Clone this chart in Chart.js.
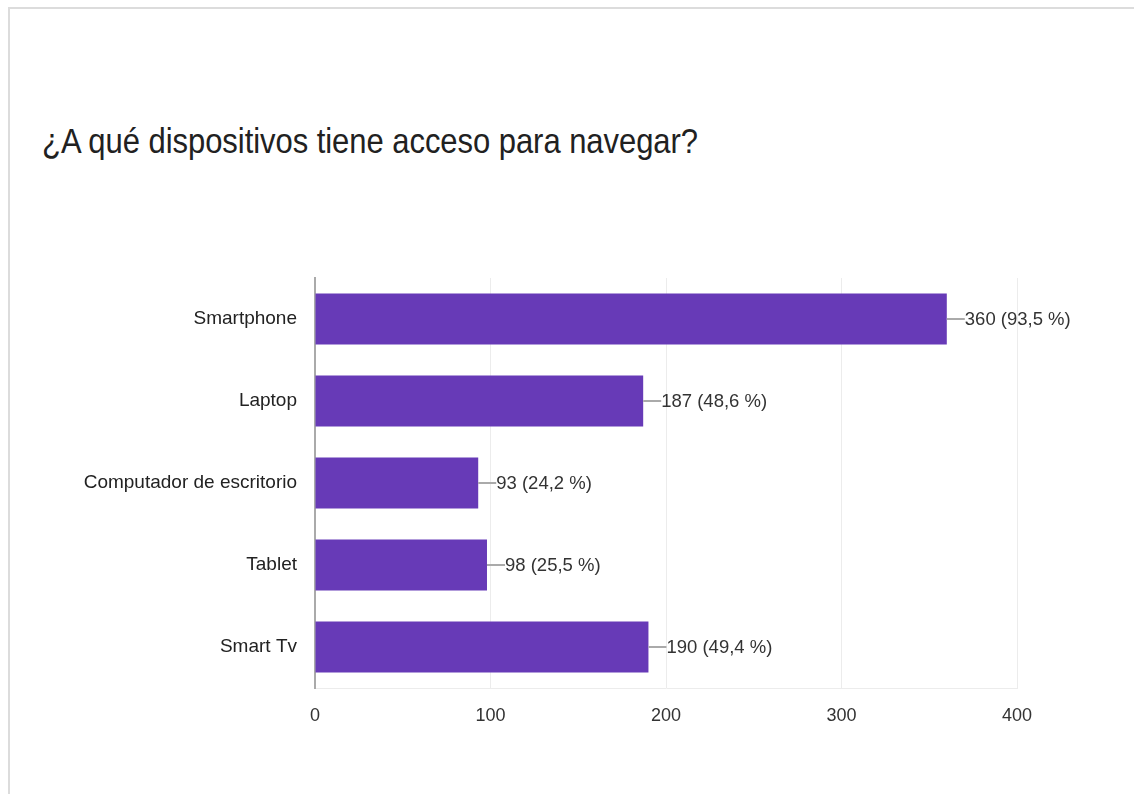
<!DOCTYPE html>
<html>
<head>
<meta charset="utf-8">
<script src="https://cdn.jsdelivr.net/npm/chart.js@4"></script>
<style>
body{margin:0;background:#fff;width:1134px;height:794px;overflow:hidden;font-family:"Liberation Sans",Arial,sans-serif}
.card{position:absolute;left:8px;top:7px;width:1140px;height:800px;border-top:2px solid #dcdcdc;border-left:2px solid #dcdcdc}
h1{position:absolute;left:42px;top:121px;margin:0;font-weight:normal;font-size:31px;color:#212121;transform:scaleY(1.15);transform-origin:left top;letter-spacing:-0.05px}
.chartbox{position:absolute;left:0;top:270px;width:1134px;height:470px}
</style>
</head>
<body>
<div class="card"></div>
<h1>¿A qué dispositivos tiene acceso para navegar?</h1>
<div class="chartbox"><canvas id="c1"></canvas></div>
<script>
const devices=["Smartphone","Laptop","Computador de escritorio","Tablet","Smart Tv"];
const counts=[360,187,93,98,190];
const percents=["93,5","48,6","24,2","25,5","49,4"];
const xTicks=[0,100,200,300,400];

const FONT='"Liberation Sans",Arial,sans-serif';

// little leader line + "n (p %)" to the right of each bar
const barLabels={
    id:"barLabels",
    afterDatasetsDraw(chart){
        const ctx=chart.ctx;
        const bars=chart.getDatasetMeta(0).data;
        ctx.save();
        bars.forEach(function(bar,i){
            ctx.strokeStyle="#aaa";
            ctx.lineWidth=2;
            ctx.beginPath();
            ctx.moveTo(bar.x,bar.y);
            ctx.lineTo(bar.x+18,bar.y);
            ctx.stroke();
            ctx.fillStyle="#333";
            ctx.font="18.5px "+FONT;
            ctx.textAlign="left";
            ctx.textBaseline="middle";
            ctx.fillText(counts[i]+" ("+percents[i]+" %)",bar.x+18,bar.y+1);
        });
        ctx.restore();
    }
};

function noPad(scale){
    scale.paddingTop=0;scale.paddingBottom=0;
    scale.paddingLeft=0;scale.paddingRight=0;
}

new Chart(document.getElementById("c1"),{
    type:"bar",
    data:{
        labels:devices,
        datasets:[{
            data:counts,
            backgroundColor:"#673ab7",
            borderWidth:0,
            barPercentage:0.62,
            categoryPercentage:1
        }]
    },
    options:{
        indexAxis:"y",
        responsive:true,
        maintainAspectRatio:false,
        animation:false,
        layout:{padding:{top:8,right:117,bottom:0,left:0}},
        plugins:{legend:{display:false},tooltip:{enabled:false}},
        scales:{
            x:{
                min:0,max:400,
                afterBuildTicks(scale){ scale.ticks=xTicks.map(v=>({value:v})) },
                afterFit(scale){ scale.height=52; noPad(scale) },
                grid:{color:"#ececec",drawTicks:false,lineWidth:1},
                border:{color:"#ececec"},
                ticks:{padding:17,color:"#333",font:{family:FONT,size:18}}
            },
            y:{
                afterFit(scale){ scale.width=315; noPad(scale) },
                grid:{display:false,drawTicks:false},
                border:{color:"#aaa",width:2},
                ticks:{padding:18,color:"#222",font:{family:FONT,size:19}}
            }
        }
    },
    plugins:[barLabels]
});
</script>
</body>
</html>
